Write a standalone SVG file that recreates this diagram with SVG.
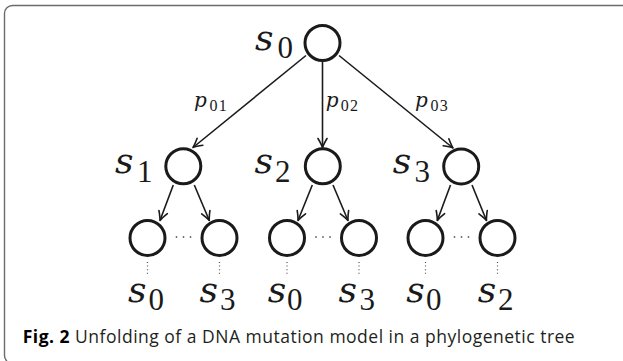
<svg xmlns="http://www.w3.org/2000/svg" width="623" height="361" viewBox="0 0 623 361">
<defs>
<marker id="arr" viewBox="-11 -6 13 12" markerWidth="13" markerHeight="12" refX="0" refY="0" orient="auto" markerUnits="userSpaceOnUse">
<path d="M -9 -4.5 Q -3 -1 0 0 Q -3 1 -9 4.5" fill="none" stroke="#1a1a1a" stroke-width="1.6" stroke-linecap="round" stroke-linejoin="round"/>
</marker>
<style>
.node{fill:#fff;stroke:#1a1a1a;stroke-width:3}
.edge{fill:none;stroke:#1a1a1a;stroke-width:1.6;marker-end:url(#arr)}
.dotv{fill:none;stroke:#555;stroke-width:1.2;stroke-dasharray:1 2.6}
.dot{fill:#666}
</style>
</defs>
<rect x="4.5" y="5.5" width="680" height="358" rx="8" fill="none" stroke="#6b6b6b" stroke-width="1.4"/>
<g id="connectors">
<line class="edge" x1="306" y1="55.5" x2="193" y2="147.5"/>
<line class="edge" x1="322.5" y1="62" x2="322.5" y2="147.5"/>
<line class="edge" x1="339" y1="55.5" x2="453" y2="148"/>
<line class="edge" x1="173.3" y1="185" x2="160" y2="220.5"/>
<line class="edge" x1="194.3" y1="185" x2="209.3" y2="220.5"/>
<line class="edge" x1="312.3" y1="185" x2="298" y2="220.5"/>
<line class="edge" x1="333" y1="185" x2="348" y2="220.5"/>
<line class="edge" x1="450.5" y1="185" x2="437.3" y2="220.5"/>
<line class="edge" x1="472" y1="185" x2="486.5" y2="220.5"/>
<line class="dotv" x1="147.5" y1="262" x2="147.5" y2="276"/>
<line class="dotv" x1="219.5" y1="262" x2="219.5" y2="276"/>
<line class="dotv" x1="287" y1="262" x2="287" y2="276"/>
<line class="dotv" x1="359" y1="262" x2="359" y2="276"/>
<line class="dotv" x1="425.5" y1="262" x2="425.5" y2="276"/>
<line class="dotv" x1="497.5" y1="262" x2="497.5" y2="276"/>
<g fill="#1a1a1a">
<text x="194" y="106.5" font-family="DejaVu Serif" font-style="italic" font-size="20">p</text><text x="209.5" y="111" font-family="Liberation Serif" font-size="16" letter-spacing="1.2">01</text>
<text x="325.7" y="106.5" font-family="DejaVu Serif" font-style="italic" font-size="20">p</text><text x="340.7" y="111" font-family="Liberation Serif" font-size="16" letter-spacing="1.2">02</text>
<text x="415" y="106.5" font-family="DejaVu Serif" font-style="italic" font-size="20">p</text><text x="430.5" y="111" font-family="Liberation Serif" font-size="16" letter-spacing="1.2">03</text>
</g>
</g>
<g id="n_s0" fill="#1a1a1a">
<circle class="node" cx="322.5" cy="43" r="17.5"/>
<text x="255" y="50" font-family="DejaVu Serif" font-style="italic" font-size="36">s</text><text x="277.5" y="58" font-family="Liberation Serif" font-size="31">0</text>
</g>
<g id="n_s1" fill="#1a1a1a">
<circle class="node" cx="183.3" cy="166.2" r="17.5"/>
<text x="115" y="173.3" font-family="DejaVu Serif" font-style="italic" font-size="36">s</text><text x="137" y="181.5" font-family="Liberation Serif" font-size="31">1</text>
</g>
<g id="n_s2" fill="#1a1a1a">
<circle class="node" cx="322.8" cy="166.2" r="17.5"/>
<text x="254.5" y="173.3" font-family="DejaVu Serif" font-style="italic" font-size="36">s</text><text x="275" y="181.5" font-family="Liberation Serif" font-size="31">2</text>
</g>
<g id="n_s3" fill="#1a1a1a">
<circle class="node" cx="461.2" cy="166.4" r="17.5"/>
<text x="392.8" y="173.3" font-family="DejaVu Serif" font-style="italic" font-size="36">s</text><text x="414.5" y="181.5" font-family="Liberation Serif" font-size="31">3</text>
</g>
<g id="n_s1_a" fill="#1a1a1a">
<circle class="node" cx="147.5" cy="238" r="17.5"/>
<text x="128" y="301.7" font-family="DejaVu Serif" font-style="italic" font-size="36">s</text><text x="148.5" y="309.5" font-family="Liberation Serif" font-size="31">0</text>
</g>
<g id="n_s1_b" fill="#1a1a1a">
<circle class="node" cx="219.5" cy="238" r="17.5"/>
<text x="199.5" y="301.7" font-family="DejaVu Serif" font-style="italic" font-size="36">s</text><text x="220" y="309.5" font-family="Liberation Serif" font-size="31">3</text>
</g>
<g id="n_s1_dots">
<circle class="dot" cx="176.5" cy="237" r="0.9"/><circle class="dot" cx="183.5" cy="237" r="0.9"/><circle class="dot" cx="190.5" cy="237" r="0.9"/>
</g>
<g id="n_s2_a" fill="#1a1a1a">
<circle class="node" cx="287" cy="238" r="17.5"/>
<text x="267.8" y="301.7" font-family="DejaVu Serif" font-style="italic" font-size="36">s</text><text x="287" y="309.5" font-family="Liberation Serif" font-size="31">0</text>
</g>
<g id="n_s2_b" fill="#1a1a1a">
<circle class="node" cx="359" cy="238" r="17.5"/>
<text x="338.5" y="301.7" font-family="DejaVu Serif" font-style="italic" font-size="36">s</text><text x="359.5" y="309.5" font-family="Liberation Serif" font-size="31">3</text>
</g>
<g id="n_s2_dots">
<circle class="dot" cx="316" cy="237" r="0.9"/><circle class="dot" cx="323" cy="237" r="0.9"/><circle class="dot" cx="330" cy="237" r="0.9"/>
</g>
<g id="n_s3_a" fill="#1a1a1a">
<circle class="node" cx="425.5" cy="238" r="17.5"/>
<text x="406.2" y="301.7" font-family="DejaVu Serif" font-style="italic" font-size="36">s</text><text x="426" y="309.5" font-family="Liberation Serif" font-size="31">0</text>
</g>
<g id="n_s3_b" fill="#1a1a1a">
<circle class="node" cx="497.5" cy="238" r="17.5"/>
<text x="477.8" y="301.7" font-family="DejaVu Serif" font-style="italic" font-size="36">s</text><text x="498" y="309.5" font-family="Liberation Serif" font-size="31">2</text>
</g>
<g id="n_s3_dots">
<circle class="dot" cx="454.5" cy="237" r="0.9"/><circle class="dot" cx="461.5" cy="237" r="0.9"/><circle class="dot" cx="468.5" cy="237" r="0.9"/>
</g>
<g id="caption">
<text x="22.7" y="343.3" font-family="Open Sans" font-size="17.5" fill="#231f20" textLength="552" lengthAdjust="spacing"><tspan font-weight="bold" fill="#000">Fig. 2</tspan> Unfolding of a DNA mutation model in a phylogenetic tree</text>
</g>
</svg>
